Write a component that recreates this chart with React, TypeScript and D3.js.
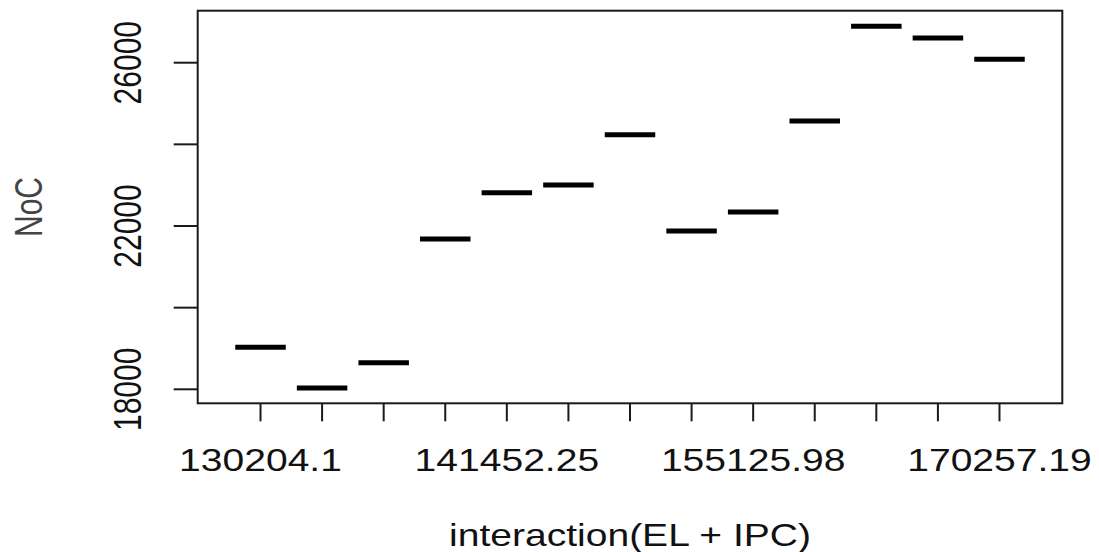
import React from "react";
import * as d3 from "d3";

// Groups of interaction(EL + IPC), in plotting order
const groups = [1, 2, 3, 4, 5, 6, 7, 8, 9, 10, 11, 12, 13];
// Only every fourth group label is printed (R drops overlapping ones)
const groupLabels = [
  "130204.1", "", "", "",
  "141452.25", "", "", "",
  "155125.98", "", "", "",
  "170257.19",
];
// NoC value (median line) per group
const nocValues = [19030, 18030, 18650, 21680, 22816, 23004, 24236, 21877, 22343, 24572, 26892, 26605, 26083];
const yTicks = [18000, 20000, 22000, 24000, 26000];
const yTickLabels = ["18000", "", "22000", "", "26000"];
const xTitle = "interaction(EL + IPC)";
const yTitle = "NoC";

const W = 1099;
const H = 552;
const FONT = "'Liberation Sans', Arial, Helvetica, sans-serif";
const SXH = 1.22; // horizontal stretch of horizontal text
const SXV = 1.3; // horizontal stretch of rotated text

export default function App() {
  const left = 197.7, right = 1062.3, top = 10.7, bottom = 403.3;
  const x = d3.scaleLinear().domain([-0.02, 14.02]).range([left, right]);
  const y = d3.scaleLinear().domain([17657, 27274]).range([bottom, top]);
  const halfBox = 0.41;
  const ink = "#1a1a1a";

  return (
    <svg
      width={W}
      height={H}
      style={{ position: "absolute", left: 0, top: 0, background: "#fff" }}
      fontFamily={FONT}
    >
      <rect x={0} y={0} width={W} height={H} fill="#fff" />
      {/* median lines */}
      {groups.map((g, i) => (
        <line
          key={"m" + g}
          x1={x(g - halfBox)}
          x2={x(g + halfBox)}
          y1={y(nocValues[i])}
          y2={y(nocValues[i])}
          stroke="#000"
          strokeWidth={5}
        />
      ))}
      {/* plot box */}
      <rect
        x={left}
        y={top}
        width={right - left}
        height={bottom - top}
        fill="none"
        stroke={ink}
        strokeWidth={2}
      />
      {/* x ticks */}
      {groups.map((g) => (
        <line key={"xt" + g} x1={x(g)} x2={x(g)} y1={bottom} y2={bottom + 18} stroke={ink} strokeWidth={2} />
      ))}
      {groups.map((g, i) =>
        groupLabels[i] ? (
          <text
            key={"xl" + g}
            transform={`translate(${x(g)},${471}) scale(${SXH},1)`}
            textAnchor="middle"
            fontSize={32}
            fill="#111"
          >
            {groupLabels[i]}
          </text>
        ) : null
      )}
      {/* y ticks */}
      {yTicks.map((t) => (
        <line key={"yt" + t} x1={left - 24} x2={left} y1={y(t)} y2={y(t)} stroke={ink} strokeWidth={2} />
      ))}
      {yTicks.map((t, i) =>
        yTickLabels[i] ? (
          <text
            key={"yl" + t}
            transform={`translate(${140.5},${y(t)}) scale(${SXV},1) rotate(-90)`}
            textAnchor="middle"
            fontSize={30}
            fill="#111"
          >
            {yTickLabels[i]}
          </text>
        ) : null
      )}
      {/* axis titles */}
      <text
        transform={`translate(${(left + right) / 2},${545.5}) scale(${SXH},1)`}
        textAnchor="middle"
        fontSize={32}
        fill="#111"
      >
        {xTitle}
      </text>
      <text
        transform={`translate(${42},${(top + bottom) / 2}) scale(${SXV},1) rotate(-90)`}
        textAnchor="middle"
        fontSize={30}
        fill="#444"
      >
        {yTitle}
      </text>
    </svg>
  );
}
